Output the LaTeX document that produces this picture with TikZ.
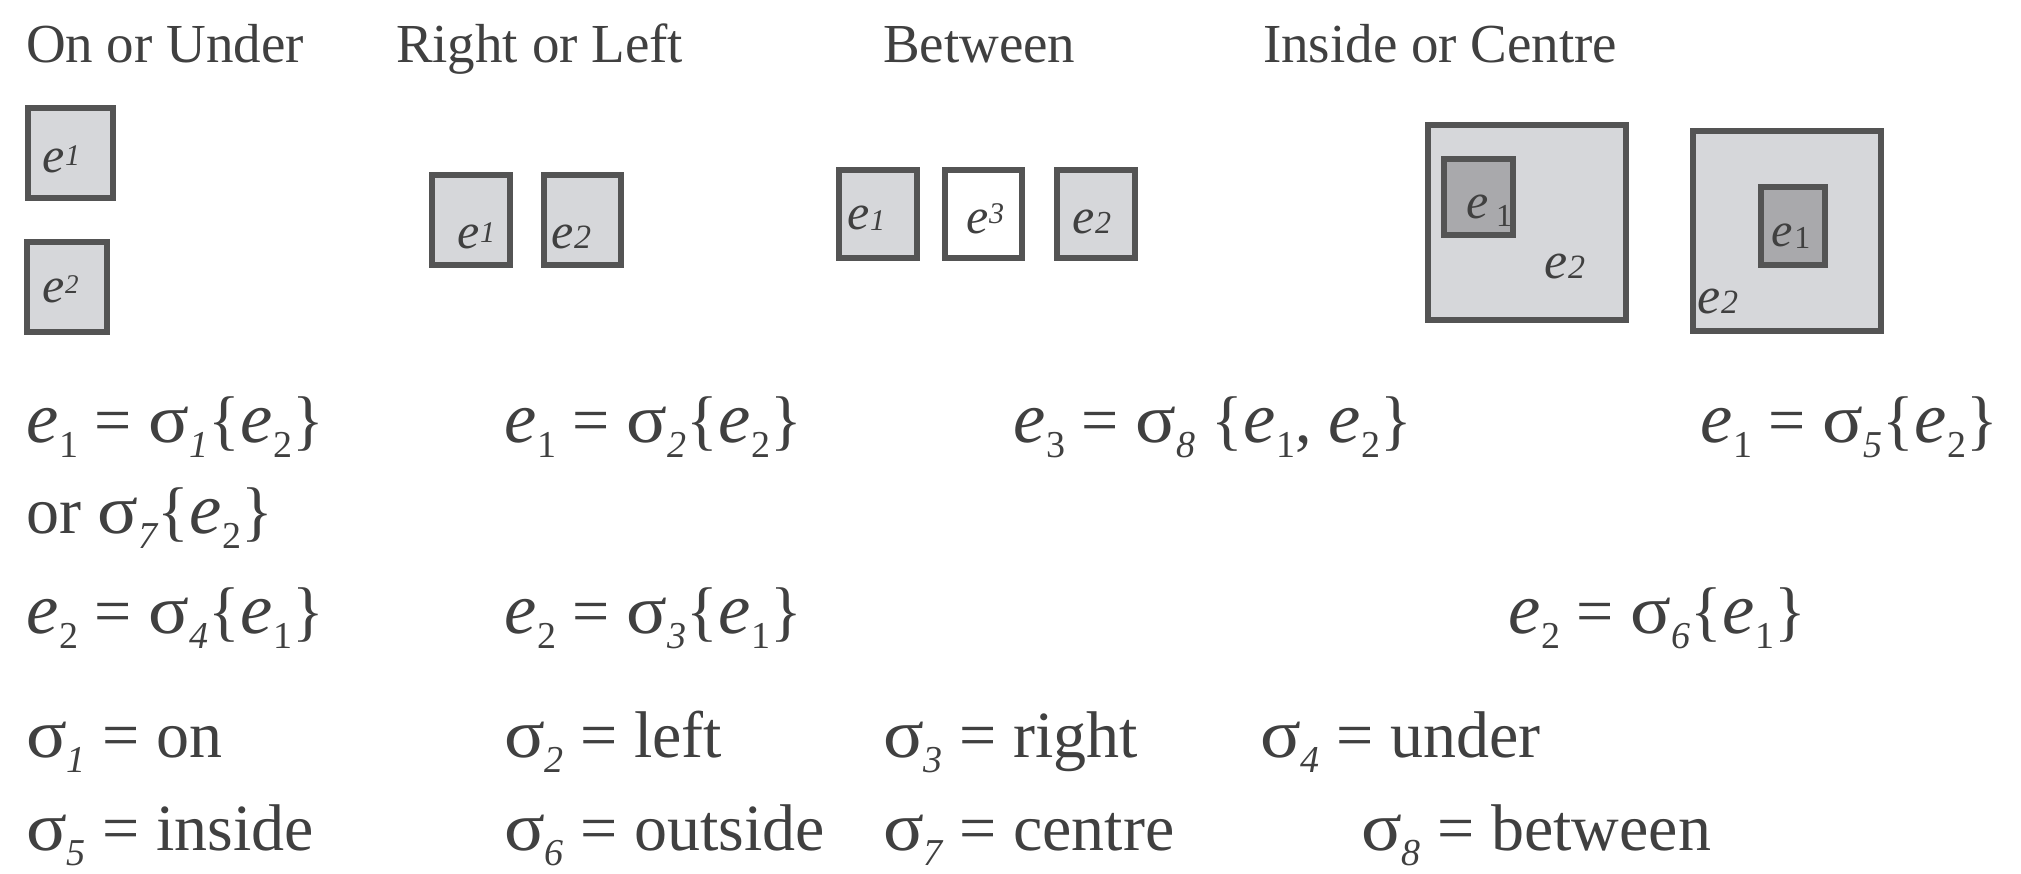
\documentclass[tikz,border=0pt]{standalone}
\usepackage{fontspec}
\setmainfont{Liberation Serif}
\definecolor{ink}{HTML}{404040}
\definecolor{boxfill}{HTML}{D6D7DA}
\definecolor{innerfill}{HTML}{A9A9AC}
\definecolor{edge}{HTML}{545454}
\newcommand\ttl{\fontsize{55}{58}\selectfont}
\newcommand\frm{\fontsize{66}{70}\selectfont}
\newcommand\ee[1]{\scalebox{1.1}{\textit{e}}\kern1pt\raisebox{-15pt}{\fontsize{38}{38}\selectfont #1}}
\newcommand\sig[1]{\scalebox{1.15}[1.05]{σ}\raisebox{-15pt}{\fontsize{38}{38}\selectfont\itshape #1}}
% box label: digit, digit size, raise, e size
\newcommand\blab[4]{{\fontsize{#4}{#4}\selectfont\itshape e}\kern1pt\raisebox{#3pt}{\fontsize{#2}{#2}\selectfont\itshape #1}}
\tikzset{
  ebox/.style={draw=edge, line width=5.5pt, fill=boxfill, rectangle, inner sep=0pt, outer sep=0pt, anchor=north west},
  txt/.style={anchor=base west, inner sep=0pt, outer sep=0pt, text=ink},
}
\begin{document}
\begin{tikzpicture}[x=1pt,y=-1pt]
\useasboundingbox[fill=white] (0,0) rectangle (2021,873);
% titles
\node[txt] (t1) at (26,62) {\ttl On or Under};
\node[txt] (t2) at (396,62) {\ttl Right or Left};
\node[txt] (t3) at (883,62) {\ttl Between};
\node[txt] (t4) at (1263,62) {\ttl Inside or Centre};
% On or Under
\node[ebox, minimum width=85pt, minimum height=90pt] (ou1) at (28,108) {};
\node[ebox, minimum width=80pt, minimum height=90pt] (ou2) at (27,242) {};
\node[txt] (ou1l) at (42,172) {\blab{1}{30}{7}{50}};
\node[txt] (ou2l) at (42,302) {\blab{2}{27}{9}{50}};
% Right or Left
\node[ebox, minimum width=78pt, minimum height=90pt] (rl1) at (432,175) {};
\node[ebox, minimum width=77pt, minimum height=90pt] (rl2) at (544,175) {};
\node[txt] (rl1l) at (457,248) {\blab{1}{30}{6}{50}};
\node[txt] (rl2l) at (551,248) {\blab{2}{34}{0}{50}};
% Between
\node[ebox, minimum width=78pt, minimum height=88pt] (bt1) at (839,170) {};
\node[ebox, fill=white, minimum width=77pt, minimum height=88pt] (bt3) at (945,170) {};
\node[ebox, minimum width=78pt, minimum height=88pt] (bt2) at (1057,170) {};
\node[txt] (bt1l) at (847,229) {\blab{1}{30}{-1}{50}};
\node[txt] (bt3l) at (966,233) {\blab{3}{30}{10}{50}};
\node[txt] (bt2l) at (1072,233) {\blab{2}{32}{0}{50}};
% Inside or Centre
\node[ebox, minimum width=198pt, minimum height=195pt] (in1) at (1428,125) {};
\node[ebox, fill=innerfill, minimum width=69pt, minimum height=76pt] (in1s) at (1444,159) {};
\node[txt] (in1sl) at (1466,218) {{\fontsize{50}{50}\selectfont\itshape e}\kern8pt\raisebox{-8pt}{\fontsize{32}{32}\selectfont 1}};
\node[txt] (in1l) at (1544,278) {\blab{2}{34}{0}{52}};
\node[ebox, minimum width=188pt, minimum height=200pt] (in2) at (1693,131) {};
\node[ebox, fill=innerfill, minimum width=64pt, minimum height=78pt] (in2s) at (1761,187) {};
\node[txt] (in2sl) at (1771,246) {{\fontsize{48}{48}\selectfont\itshape e}\kern2pt\raisebox{-2pt}{\fontsize{32}{32}\selectfont 1}};
\node[txt] (in2l) at (1697,313) {\blab{2}{34}{0}{52}};
% formulas
\node[txt] (f11) at (26,442) {\frm \ee{1} = \sig{1}\{\ee{2}\}};
\node[txt] (f12) at (504,442) {\frm \ee{1} = \sig{2}\{\ee{2}\}};
\node[txt] (f13) at (1013,442) {\frm \ee{3} = \sig{8} \{\ee{1}, \ee{2}\}};
\node[txt] (f14) at (1700,442) {\frm \ee{1} = \sig{5}\{\ee{2}\}};
\node[txt] (f21) at (26,533) {\frm or \sig{7}\{\ee{2}\}};
\node[txt] (f31) at (26,633) {\frm \ee{2} = \sig{4}\{\ee{1}\}};
\node[txt] (f32) at (504,633) {\frm \ee{2} = \sig{3}\{\ee{1}\}};
\node[txt] (f33) at (1508,633) {\frm \ee{2} = \sig{6}\{\ee{1}\}};
\node[txt] (s1) at (26,757) {\frm \sig{1} = on};
\node[txt] (s2) at (504,757) {\frm \sig{2} = left};
\node[txt] (s3) at (883,757) {\frm \sig{3} = right};
\node[txt] (s4) at (1260,757) {\frm \sig{4} = under};
\node[txt] (s5) at (26,850) {\frm \sig{5} = inside};
\node[txt] (s6) at (504,850) {\frm \sig{6} = outside};
\node[txt] (s7) at (883,850) {\frm \sig{7} = centre};
\node[txt] (s8) at (1361,850) {\frm \sig{8} = between};
\end{tikzpicture}
\end{document}
